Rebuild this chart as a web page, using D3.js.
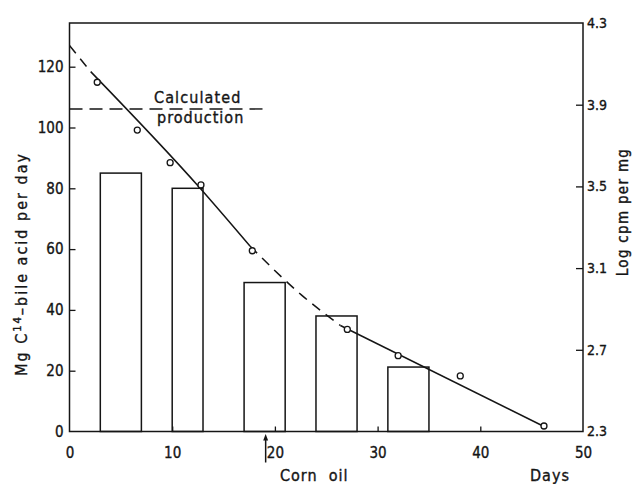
<!DOCTYPE html>
<html>
<head>
<meta charset="utf-8">
<script src="https://cdn.jsdelivr.net/npm/d3@7"></script>
<style>
body { margin: 0; background: #fff; }
svg text { font-family: 'DejaVu Sans Condensed', 'DejaVu Sans', sans-serif; fill: #151515; stroke: #151515; stroke-width: 0.35px; }
</style>
</head>
<body>
<div id="chart"></div>
<script>
// bile acid excretion (bars, left axis)
const barStart = [3, 10, 17, 24, 31];
const barEnd = [7, 13, 21, 28, 35];
const barValues = [85, 80, 49, 38, 21.2];

// specific activity (circles, right axis)
const pointDays = [2.7, 6.6, 9.8, 12.8, 17.8, 27.05, 32.0, 38.05, 46.2];
const pointLogCpm = [4.01, 3.776, 3.616, 3.507, 3.185, 2.80, 2.671, 2.572, 2.327];

// fitted decay curve, switches dashed/solid at the break indices
const fitDays = [0, 2.06, 12.7, 17.57, 22.6, 26.38, 46.3];
const fitLogCpm = [4.19, 4.062, 3.492, 3.208, 2.968, 2.819, 2.322];
const fitBreaks = [0, 1, 3, 5, 6];

const calcProduction = 106.1;
const calcProductionEnd = 18.8;
const cornOilDay = 19.1;

const xTicks = [0, 10, 20, 30, 40, 50];
const leftTicks = [0, 20, 40, 60, 80, 100, 120];
const rightTicks = [2.3, 2.7, 3.1, 3.5, 3.9, 4.3];

const width = 633, height = 484;
const plotLeft = 69.5, plotRight = 583, plotTop = 23, plotBottom = 431.5;

const svg = d3.select('#chart').append('svg')
    .attr('width', width)
    .attr('height', height);

const x = d3.scaleLinear().domain([0, 50]).range([plotLeft, plotRight]);
const y = d3.scaleLinear().domain([0, (plotBottom - plotTop) / 3.04]).range([plotBottom, plotTop]);
const y2 = d3.scaleLinear().domain([2.3, 4.3]).range([plotBottom, plotTop]);

const ink = '#151515';

// frame
svg.append('rect')
    .attr('x', plotLeft).attr('y', plotTop)
    .attr('width', plotRight - plotLeft).attr('height', plotBottom - plotTop)
    .attr('fill', 'none').attr('stroke', ink).attr('stroke-width', 1.5);

// axes, ticks point inward
const xAxis = svg.append('g')
    .attr('transform', `translate(0,${plotBottom})`)
    .call(d3.axisBottom(x).tickValues(xTicks).tickSize(-5).tickPadding(16).tickFormat(d3.format('d')));
const yAxis = svg.append('g')
    .attr('transform', `translate(${plotLeft},0)`)
    .call(d3.axisLeft(y).tickValues(leftTicks).tickSize(-6).tickPadding(6).tickFormat(d3.format('d')));
const y2Axis = svg.append('g')
    .attr('transform', `translate(${plotRight},0)`)
    .call(d3.axisRight(y2).tickValues(rightTicks).tickSize(-7).tickPadding(4).tickFormat(d3.format('.1f')));

[xAxis, yAxis, y2Axis].forEach(g => {
    g.select('.domain').remove();
    g.selectAll('line').attr('stroke', ink).attr('stroke-width', 1.3);
    g.selectAll('text').style('font-size', '15px').attr('fill', ink);
});
xAxis.selectAll('.tick').filter(d => d === 0 || d === 50).select('line').remove();
yAxis.selectAll('.tick').filter(d => d === 0).select('line').remove();
y2Axis.selectAll('.tick').filter(d => d === 2.3 || d === 4.3).select('line').remove();
y2Axis.selectAll('text').style('font-size', '14px');

// bars
svg.append('g')
    .selectAll('rect')
    .data(barValues)
    .join('rect')
    .attr('x', (d, i) => x(barStart[i]))
    .attr('y', d => y(d))
    .attr('width', (d, i) => x(barEnd[i]) - x(barStart[i]))
    .attr('height', d => y(0) - y(d))
    .attr('fill', 'none')
    .attr('stroke', ink)
    .attr('stroke-width', 1.5);

// calculated production
svg.append('line')
    .attr('x1', x(0)).attr('x2', x(calcProductionEnd))
    .attr('y1', y(calcProduction)).attr('y2', y(calcProduction))
    .attr('stroke', ink).attr('stroke-width', 1.4)
    .attr('stroke-dasharray', '13,7');

svg.append('text')
    .attr('x', 154).attr('y', 102.5)
    .style('font-size', '16px').style('letter-spacing', '1.1px')
    .text('Calculated');
svg.append('text')
    .attr('x', 157).attr('y', 122.5)
    .style('font-size', '16px').style('letter-spacing', '1px')
    .text('production');

// fitted curve
const fitLine = d3.line()
    .x(i => x(fitDays[i]))
    .y(i => y2(fitLogCpm[i]))
    .curve(d3.curveMonotoneX);

for (let s = 0; s < fitBreaks.length - 1; s++) {
    const idx = d3.range(fitBreaks[s], fitBreaks[s + 1] + 1);
    svg.append('path')
        .attr('d', fitLine(idx))
        .attr('fill', 'none')
        .attr('stroke', ink)
        .attr('stroke-width', 1.5)
        .attr('stroke-dasharray', s % 2 === 0 ? '10,7' : null);
}

// data points
svg.append('g')
    .selectAll('circle')
    .data(pointLogCpm)
    .join('circle')
    .attr('cx', (d, i) => x(pointDays[i]))
    .attr('cy', d => y2(d))
    .attr('r', 3)
    .attr('fill', '#fff')
    .attr('stroke', ink)
    .attr('stroke-width', 1.3);

// corn oil arrow
const ax = x(cornOilDay);
svg.append('line')
    .attr('x1', ax).attr('x2', ax)
    .attr('y1', plotBottom + 31).attr('y2', plotBottom + 7)
    .attr('stroke', ink).attr('stroke-width', 1.5);
svg.append('path')
    .attr('d', d3.line()([[ax - 2.5, plotBottom + 9], [ax, plotBottom + 2.5], [ax + 2.5, plotBottom + 9]]) + 'Z')
    .attr('fill', ink);

svg.append('text')
    .attr('x', 280).attr('y', 481)
    .style('font-size', '16px').style('letter-spacing', '1px')
    .style('white-space', 'pre')
    .text('Corn  oil');
svg.append('text')
    .attr('x', 530).attr('y', 481)
    .style('font-size', '16px').style('letter-spacing', '1px')
    .text('Days');

// axis titles
const yTitle = svg.append('text')
    .attr('transform', 'translate(27,264) rotate(-90)')
    .attr('text-anchor', 'middle')
    .style('font-size', '16px').style('letter-spacing', '2px');
yTitle.append('tspan').text('Mg C');
yTitle.append('tspan').attr('dy', -6).style('font-size', '11px').text('14');
yTitle.append('tspan').attr('dy', 6).text('\u2013bile acid per day');

svg.append('text')
    .attr('transform', 'translate(628,212) rotate(-90)')
    .attr('text-anchor', 'middle')
    .style('font-size', '15px').style('letter-spacing', '1.3px')
    .text('Log cpm per mg');
</script>
</body>
</html>
